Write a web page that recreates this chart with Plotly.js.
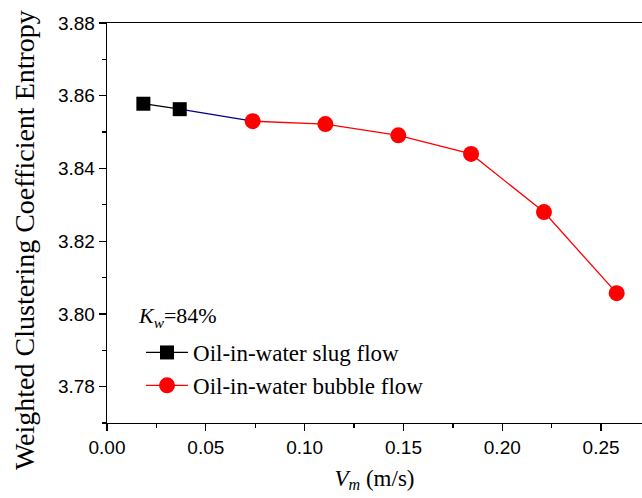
<!DOCTYPE html>
<html>
<head>
<meta charset="utf-8">
<script src="https://cdn.plot.ly/plotly-3.0.1.min.js"></script>
<style>html,body{margin:0;padding:0;background:#fff;}#chart{width:642px;height:498px;}</style>
</head>
<body>
<div id="chart"></div>
<script>
// Data
var slugX = [0.0184, 0.0368];
var slugY = [3.8578, 3.8563];
var bubbleX = [0.0737, 0.1105, 0.1474, 0.1842, 0.2211, 0.2579];
var bubbleY = [3.8530, 3.8522, 3.8491, 3.8440, 3.8280, 3.8057];
var slugName = 'Oil-in-water slug flow';
var bubbleName = 'Oil-in-water bubble flow';
var xTickVals = [0.00, 0.05, 0.10, 0.15, 0.20, 0.25];
var xTickText = ['0.00', '0.05', '0.10', '0.15', '0.20', '0.25'];
var yTickVals = [3.78, 3.80, 3.82, 3.84, 3.86, 3.88];
var yTickText = ['3.78', '3.80', '3.82', '3.84', '3.86', '3.88'];
var yTitle = 'Weighted Clustering Coefficient Entropy';
var xTitle = '<i>V</i><sub><i>m</i></sub> (m/s)';
var kwLabel = '<i>K</i><sub><i>w</i></sub>=84%';

var serif = 'Liberation Serif, Times New Roman, serif';
var sans = 'Liberation Sans, Arial, sans-serif';

var traces = [
  {
    x: [slugX[slugX.length - 1], bubbleX[0]],
    y: [slugY[slugY.length - 1], bubbleY[0]],
    mode: 'lines', line: {color: '#000080', width: 1.3},
    showlegend: false, hoverinfo: 'skip'
  },
  {
    x: slugX, y: slugY, name: slugName,
    mode: 'lines+markers',
    line: {color: '#000000', width: 1.3},
    marker: {symbol: 'square', size: 14, color: '#000000'}
  },
  {
    x: bubbleX, y: bubbleY, name: bubbleName,
    mode: 'lines+markers',
    line: {color: '#ff0000', width: 1.3},
    marker: {symbol: 'circle', size: 16, color: '#ff0000'}
  }
];

var layout = {
  width: 642, height: 498,
  margin: {l: 107, r: 0, t: 23, b: 75},
  paper_bgcolor: '#ffffff', plot_bgcolor: '#ffffff',
  showlegend: true,
  legend: {
    x: 0.0636, y: 0.23, xanchor: 'left', yanchor: 'top',
    font: {family: serif, size: 23, color: '#000'},
    bgcolor: 'rgba(0,0,0,0)', tracegroupgap: 0, itemwidth: 42
  },
  xaxis: {
    range: [0, 0.2707],
    tickvals: xTickVals, ticktext: xTickText,
    ticks: 'outside', ticklen: 7, tickwidth: 1.3, tickcolor: '#000',
    minor: {dtick: 0.025, ticks: 'outside', ticklen: 4, tickwidth: 1.3, tickcolor: '#000', showgrid: false},
    showline: true, linecolor: '#000', linewidth: 1.3, mirror: true,
    showgrid: false, zeroline: false,
    tickfont: {family: sans, size: 19, color: '#000'},
    title: {text: xTitle, font: {family: serif, size: 23, color: '#000'}, standoff: 12}
  },
  yaxis: {
    range: [3.77, 3.88],
    tickvals: yTickVals, ticktext: yTickText,
    ticks: 'outside', ticklen: 7, tickwidth: 1.3, tickcolor: '#000',
    minor: {dtick: 0.01, tick0: 3.77, ticks: 'outside', ticklen: 4, tickwidth: 1.3, tickcolor: '#000', showgrid: false},
    showline: true, linecolor: '#000', linewidth: 1.3, mirror: false,
    showgrid: false, zeroline: false,
    tickfont: {family: sans, size: 19, color: '#000'}
  },
  annotations: [
    {
      xref: 'paper', yref: 'paper', x: 0.055, y: 0.265, xanchor: 'left', yanchor: 'middle',
      text: kwLabel, showarrow: false,
      font: {family: serif, size: 22, color: '#000'}
    },
    {
      xref: 'paper', yref: 'paper', x: -0.155, y: 0.4575, xanchor: 'center', yanchor: 'middle',
      text: yTitle, showarrow: false, textangle: -90,
      font: {family: serif, size: 28, color: '#000'}
    }
  ]
};

Plotly.newPlot('chart', traces, layout, {displayModeBar: false, staticPlot: true});
</script>
</body>
</html>
